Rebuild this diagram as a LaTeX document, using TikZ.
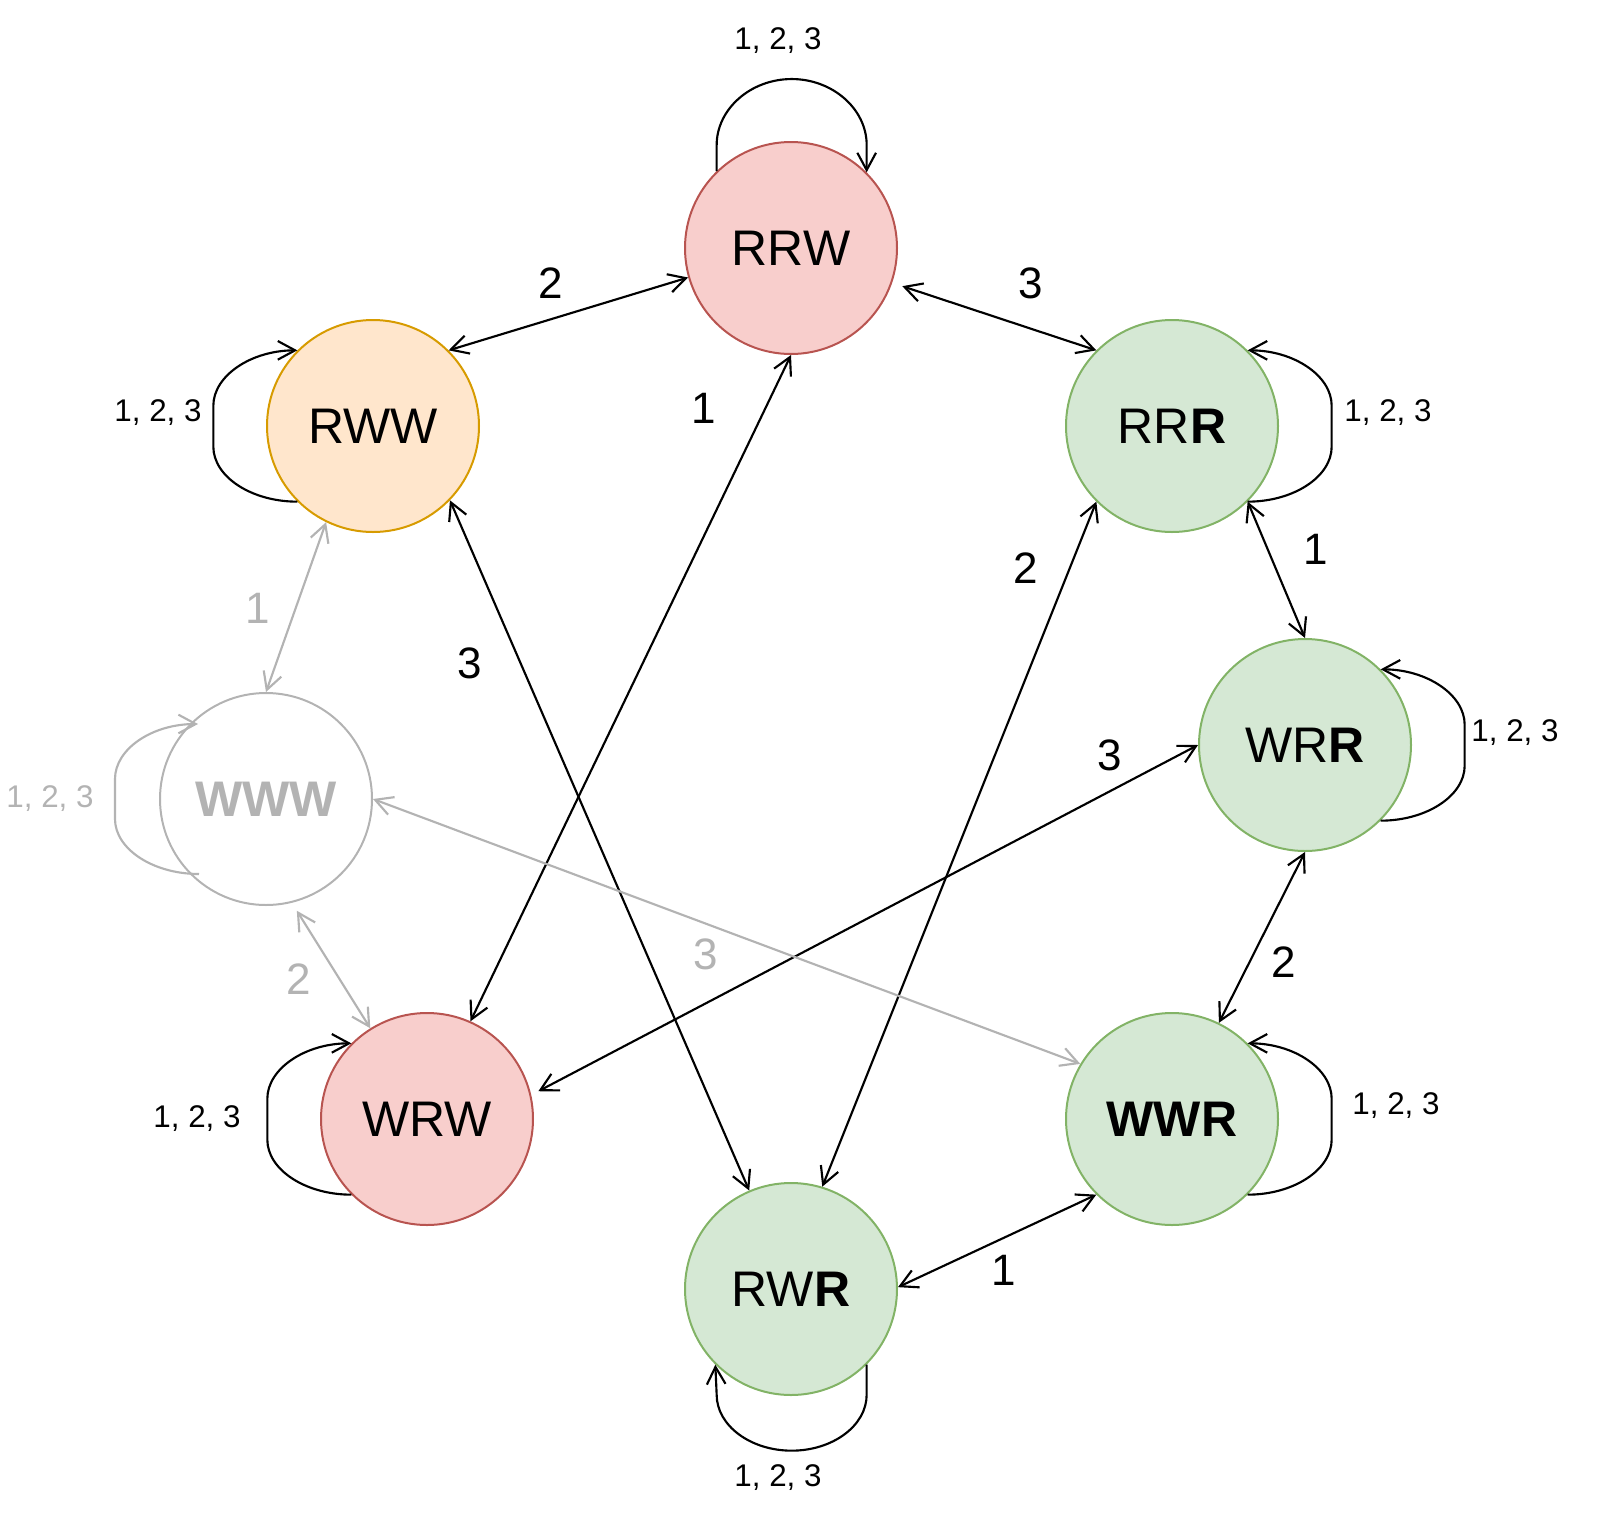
\documentclass[tikz,border=0pt]{standalone}
\usepackage{fontspec}
\setmainfont{Liberation Sans}
\usetikzlibrary{arrows.meta}
\definecolor{redfill}{HTML}{F8CECC}
\definecolor{redline}{HTML}{B85450}
\definecolor{orfill}{HTML}{FFE6CC}
\definecolor{orline}{HTML}{D79B00}
\definecolor{grfill}{HTML}{D5E8D4}
\definecolor{grline}{HTML}{82B366}
\definecolor{lgrey}{HTML}{B3B3B3}
\begin{document}
\begin{tikzpicture}[x=0.75pt,y=-0.75pt,
  >={Straight Barb[length=13pt,width=14pt]},
  st/.style={circle,minimum size=159pt,inner sep=0pt,line width=1.5pt,font=\fontsize{37.5}{40}\selectfont},
  redst/.style={st,draw=redline,fill=redfill},
  orst/.style={st,draw=orline,fill=orfill},
  grst/.style={st,draw=grline,fill=grfill},
  greyst/.style={st,draw=lgrey,text=lgrey,font=\fontsize{37.5}{40}\selectfont\bfseries},
  edge/.style={line width=1.6pt,<->},
  loopedge/.style={line width=1.6pt,->},
  elab/.style={font=\fontsize{33}{36}\selectfont,inner sep=0pt},
  llab/.style={font=\fontsize{23.5}{26}\selectfont,inner sep=0pt}
]
\useasboundingbox (0,0) rectangle (1600,1521);

% states
\node[redst]  (RRW) at (791,248)  {RRW};
\node[orst]   (RWW) at (373,426)  {RWW};
\node[grst]   (RRR) at (1172,426) {RR\textbf{R}};
\node[grst]   (WRR) at (1305,745) {WR\textbf{R}};
\node[greyst] (WWW) at (266,799)  {WWW};
\node[redst]  (WRW) at (427,1119) {WRW};
\node[grst]   (WWR) at (1172,1119) {\textbf{WWR}};
\node[grst]   (RWR) at (791,1289) {RW\textbf{R}};

% transitions
\draw[edge] (RWW.45) -- (RRW.196);
\draw[edge,shorten <=8pt] (RRW.-19) -- (RRR.135);
\draw[edge] (RRW.270) -- (WRW.66);
\draw[edge] (RWW.-44) -- (RWR.113);
\draw[edge] (RRR.225) -- (RWR.73);
\draw[edge] (RRR.-45) -- (WRR.90);
\draw[edge,shorten >=6pt] (WRR.180) -- (WRW.13);
\draw[edge] (WRR.270) -- (WWR.64);
\draw[edge] (WWR.225) -- (RWR.1);
\draw[edge,draw=lgrey] (WWW.90) -- (RWW.244);
\draw[edge,draw=lgrey,shorten <=7pt] (WWW.284) -- (WRW.122);
\draw[edge,draw=lgrey] (WWW.0) -- (WWR.149);

% self loops
\draw[loopedge] (RRW.134) -- ++(0,-26) .. controls +(0,-36) and +(-41,0) .. ++(75,-66)
  .. controls +(41,0) and +(0,-36) .. ++(75,66) -- (RRW.45);
\draw[loopedge] (RWR.-45) -- ++(0,30) .. controls +(0,31) and +(41,0) .. ++(-75,56)
  .. controls +(-41,0) and +(0,31) .. ++(-75,-56) -- (RWR.225);
\draw[loopedge] (RWW.225) .. controls +(-46,0) and +(0,30) .. ++(-84,-55) -- ++(0,-41)
  .. controls +(0,-30) and +(-46,0) .. (RWW.135);
\draw[loopedge] (WRW.225) .. controls +(-46,0) and +(0,30) .. ++(-84,-55) -- ++(0,-41)
  .. controls +(0,-30) and +(-46,0) .. (WRW.135);
\draw[loopedge] (RRR.-45) .. controls +(46,0) and +(0,30) .. ++(84,-55) -- ++(0,-41)
  .. controls +(0,-30) and +(46,0) .. (RRR.45);
\draw[loopedge] (WRR.-45) .. controls +(46,0) and +(0,30) .. ++(84,-55) -- ++(0,-41)
  .. controls +(0,-30) and +(46,0) .. (WRR.45);
\draw[loopedge] (WWR.-45) .. controls +(46,0) and +(0,30) .. ++(84,-55) -- ++(0,-41)
  .. controls +(0,-30) and +(46,0) .. (WWR.45);
\coordinate (wwwA) at ([shift={(-67,75)}]WWW.center);
\coordinate (wwwB) at ([shift={(-68,-75)}]WWW.center);
\draw[loopedge,draw=lgrey] (wwwA) .. controls +(-46,0) and +(0,30) .. ++(-84,-55) -- ++(0,-40)
  .. controls +(0,-30) and +(-46,0) .. (wwwB);

% transition labels
\node[elab] (l1) at (551,283) {2};
\node[elab] (l2) at (1031,283) {3};
\node[elab] (l3) at (704,408) {1};
\node[elab] (l4) at (470,663) {3};
\node[elab] (l5) at (1026,568) {2};
\node[elab] (l6) at (1316,549) {1};
\node[elab] (l7) at (1110,755) {3};
\node[elab] (l8) at (1284,962) {2};
\node[elab] (l9) at (1004,1270) {1};
\node[elab,text=lgrey] (l10) at (258,608) {1};
\node[elab,text=lgrey] (l11) at (299,979) {2};
\node[elab,text=lgrey] (l12) at (706,954) {3};

% loop labels
\node[llab] (m1) at (778,41) {1, 2, 3};
\node[llab] (m2) at (158,413) {1, 2, 3};
\node[llab] (m3) at (1388,413) {1, 2, 3};
\node[llab] (m4) at (1515,733) {1, 2, 3};
\node[llab,text=lgrey] (m5) at (50,799) {1, 2, 3};
\node[llab] (m6) at (197,1119) {1, 2, 3};
\node[llab] (m7) at (1396,1106) {1, 2, 3};
\node[llab] (m8) at (778,1478) {1, 2, 3};
\end{tikzpicture}
\end{document}
